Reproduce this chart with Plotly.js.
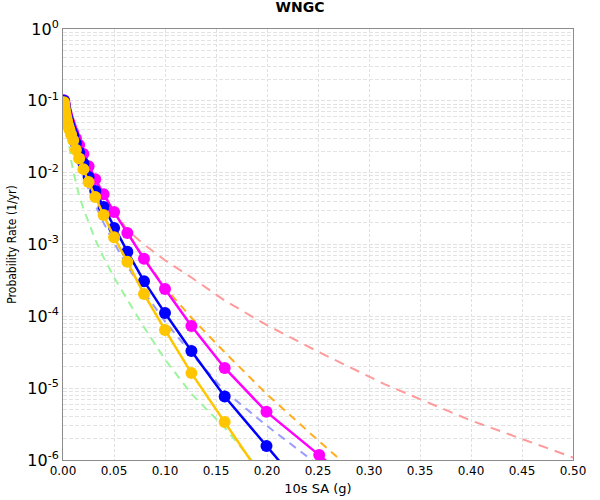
<!DOCTYPE html>
<html>
<head>
<meta charset="utf-8">
<script src="https://cdn.plot.ly/plotly-3.0.1.min.js"></script>
<style>html,body{margin:0;padding:0;background:#fff}#chart{width:600px;height:500px}</style>
</head>
<body>
<div id="chart"></div>
<script>
// IML grid (10s SA, g)
const xStd = [0.001,0.00126,0.00158,0.002,0.00251,0.00316,0.00398,0.00501,0.00631,0.00794,
  0.01,0.0126,0.0158,0.02,0.0251,0.0316,0.0398,0.0501,0.0631,0.0794,0.1,0.1259,0.1585,0.1995,0.2512,0.3162,0.3981,0.5012];

// solid curves with markers
const yGold = [0.0955,0.0871,0.0794,0.0724,0.0661,0.0589,0.0525,0.0457,0.0398,0.0339,
  0.0282,0.0209,0.0158,0.0112,0.00741,0.00457,0.00257,0.00126,5.75e-4,2.04e-4,6.46e-5,1.62e-5,3.39e-6,4.68e-7];
const yBlue = [0.1,0.0933,0.0871,0.0794,0.0724,0.0661,0.0589,0.0525,0.0457,0.0389,
  0.0331,0.0257,0.0191,0.0135,0.0087,0.00556,0.00333,0.0017,7.94e-4,3.09e-4,1.11e-4,3.29e-5,7.66e-6,1.57e-6,2.14e-7];
const yMagenta = [0.102,0.0955,0.0891,0.0832,0.0759,0.0692,0.0631,0.0562,0.0501,0.0427,
  0.0363,0.0302,0.0243,0.0182,0.0123,0.00813,0.00501,0.00283,0.00145,6.31e-4,2.4e-4,7.33e-5,1.91e-5,4.68e-6,1.17e-6,2.0e-7];

// dashed curves
const yGreen = [0.0891,0.0832,0.0759,0.0676,0.0589,0.0501,0.0417,0.0302,0.0219,0.0151,
  0.0105,0.00708,0.00479,0.00316,0.002,0.00117,6.61e-4,3.47e-4,1.7e-4,7.08e-5,2.51e-5,8.32e-6,2.82e-6,5.62e-7];
const yLavender = [0.1,0.0933,0.0851,0.0776,0.0692,0.0617,0.0537,0.0457,0.038,0.0316,
  0.0224,0.0174,0.0129,0.00912,0.00589,0.00355,0.002,0.00105,5.01e-4,2.19e-4,8.51e-5,3.02e-5,9.12e-6,3.02e-6,8.32e-7];
const yOrange = [0.102,0.0955,0.0891,0.0832,0.0759,0.0692,0.0631,0.0562,0.0501,0.0427,
  0.0363,0.0302,0.0243,0.0182,0.0123,0.00813,0.00501,0.00285,0.00148,6.46e-4,2.51e-4,9.55e-5,3.16e-5,8.32e-6,1.82e-6,2.82e-7];
const ySalmon = [0.102,0.0955,0.0891,0.0832,0.0759,0.0692,0.0631,0.0562,0.0501,0.0427,
  0.0363,0.0302,0.0245,0.0185,0.0126,0.00832,0.00513,0.00302,0.00158,1.0e-3,6.03e-4,3.47e-4,1.66e-4,7.59e-5,3.16e-5,1.12e-5,3.63e-6,1.07e-6];

const xTicks = [0,0.05,0.1,0.15,0.2,0.25,0.3,0.35,0.4,0.45,0.5];
const xTickText = ['0.00','0.05','0.10','0.15','0.20','0.25','0.30','0.35','0.40','0.45','0.50'];
const yTicks = [1,0.1,0.01,0.001,1e-4,1e-5,1e-6];
const yTickText = ['10<sup>0</sup>','10<sup>-1</sup>','10<sup>-2</sup>','10<sup>-3</sup>','10<sup>-4</sup>','10<sup>-5</sup>','10<sup>-6</sup>'];

function dashed(y, color, dash) {
  return {x: xStd.slice(0, y.length), y: y, type: 'scatter', mode: 'lines',
    line: {color: color, width: 2, dash: dash || '8px,6px'}, hoverinfo: 'skip'};
}
function solid(y, color) {
  return {x: xStd.slice(0, y.length), y: y, type: 'scatter', mode: 'lines+markers',
    line: {color: color, width: 2.5}, marker: {color: color, size: 12}};
}

const data = [
  dashed(ySalmon, '#ff9a9a', '10px,7px'),
  dashed(yOrange, '#ffad1f'),
  dashed(yLavender, '#9b9bff'),
  dashed(yGreen, '#9cf59c'),
  solid(yMagenta, '#ff00ff'),
  solid(yBlue, '#0000ff'),
  solid(yGold, '#ffc600')
];

const layout = {
  width: 600, height: 500,
  margin: {l: 63, r: 27, t: 29, b: 40},
  paper_bgcolor: '#ffffff', plot_bgcolor: '#ffffff',
  showlegend: false,
  font: {family: 'DejaVu Sans, sans-serif', color: '#000'},
  title: {text: '<b>WNGC</b>', x: 0.5, xref: 'container', xanchor: 'center',
    y: 0.995, yanchor: 'top', font: {size: 14, family: 'DejaVu Sans, sans-serif'}},
  xaxis: {
    range: [0, 0.5], tickvals: xTicks, ticktext: xTickText,
    showline: true, linecolor: '#8c8c8c', linewidth: 1, mirror: true,
    showgrid: true, gridcolor: '#e0e0e0', griddash: '3px,2px', gridwidth: 1,
    zeroline: false, ticks: '', tickfont: {size: 12},
    title: {text: '10s SA (g)', font: {size: 13}, standoff: 6}
  },
  yaxis: {
    type: 'log', range: [-6, 0], tickvals: yTicks, ticktext: yTickText,
    showline: true, linecolor: '#8c8c8c', linewidth: 1, mirror: true,
    showgrid: true, gridcolor: '#e0e0e0', griddash: '4px,2px', gridwidth: 1,
    minor: {dtick: 'D1', showgrid: true, gridcolor: '#e3e3e3', griddash: '4px,2px', ticks: ''},
    zeroline: false, ticks: '', tickfont: {size: 16},
    title: {text: 'Probability Rate (1/yr)', font: {size: 12, family: 'Liberation Sans Narrow, DejaVu Sans Condensed, sans-serif'}, standoff: 8}
  }
};

Plotly.newPlot('chart', data, layout, {staticPlot: true, displayModeBar: false});
</script>
</body>
</html>
